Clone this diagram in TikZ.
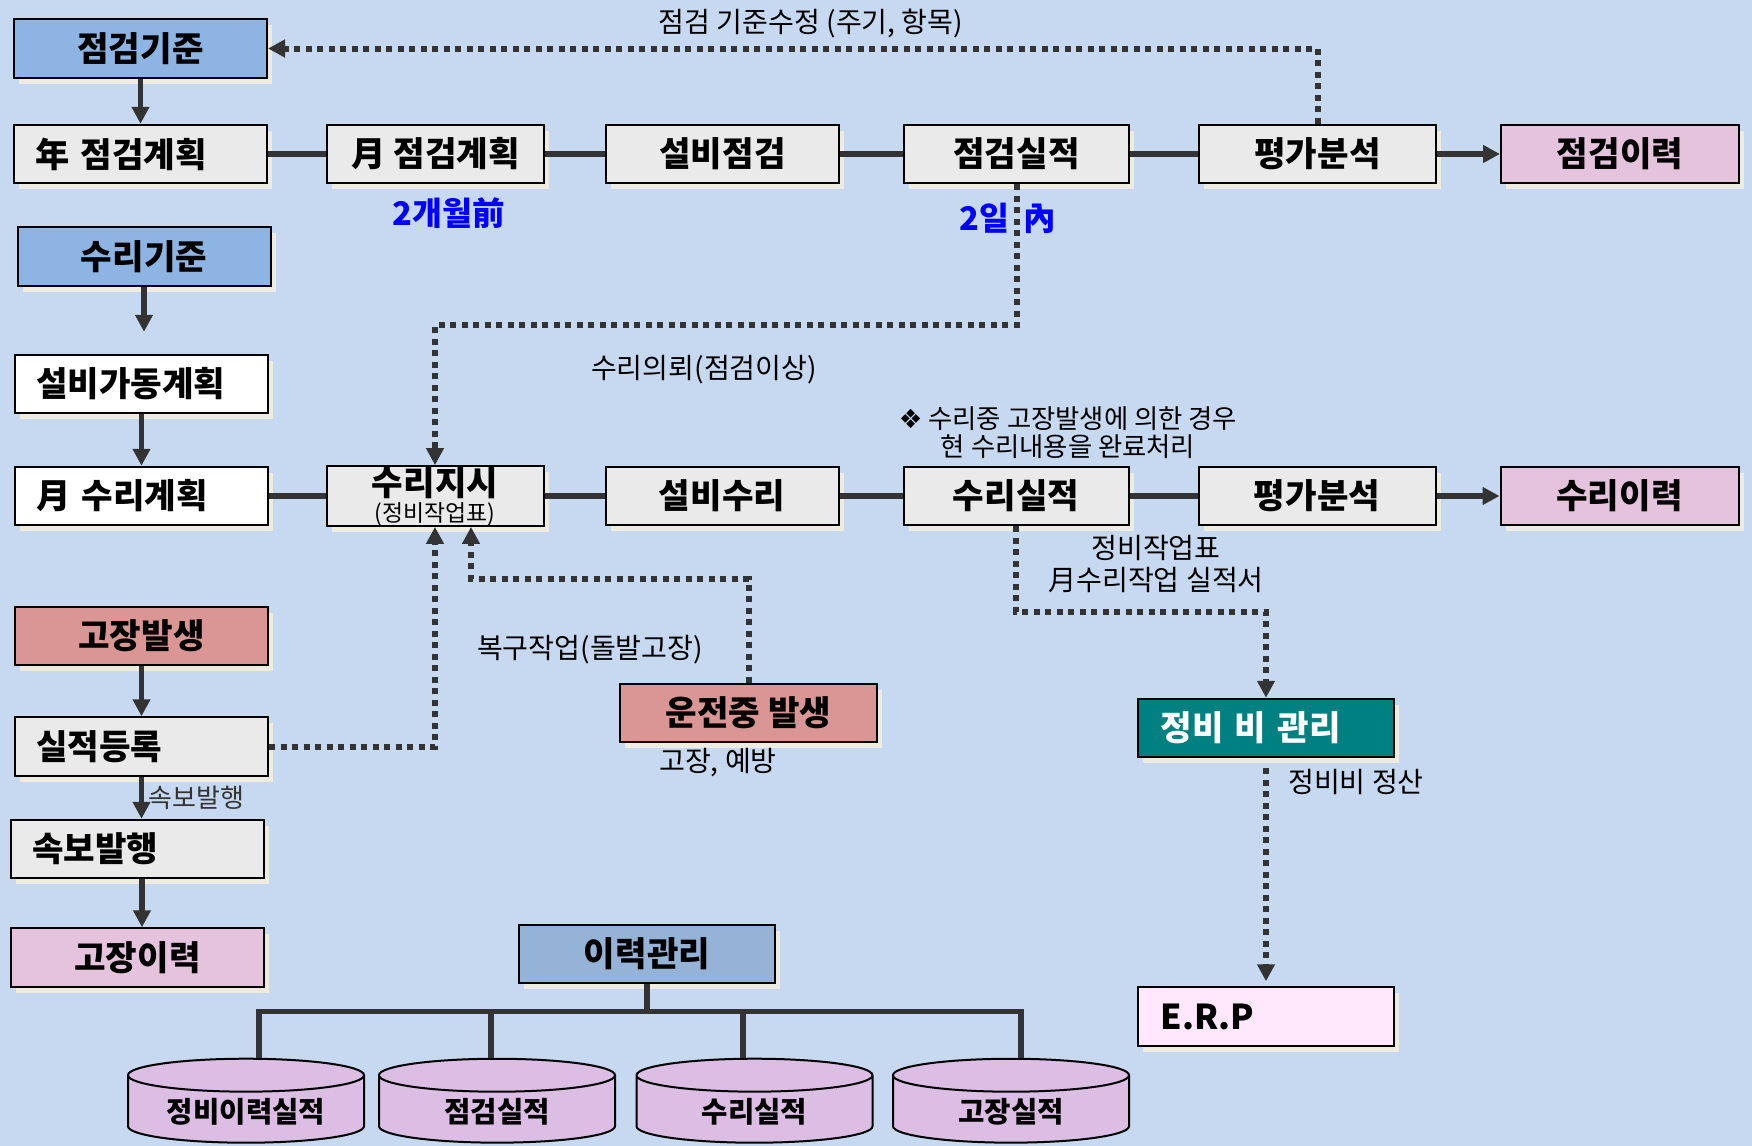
\documentclass[tikz,border=0pt]{standalone}
\usepackage{fontspec}
\setmainfont{Noto Sans CJK KR}
\newfontfamily\symfont{DejaVu Sans}
\usepackage{tikz}
\usetikzlibrary{positioning}
\usetikzlibrary{shapes,arrows.meta,shadows}
\definecolor{bgc}{HTML}{C6D9F0}
\definecolor{boxgray}{HTML}{EAEAEA}
\definecolor{stdblue}{HTML}{8DB4E2}
\definecolor{histblue}{HTML}{95B3D7}
\definecolor{salmon}{HTML}{DA9694}
\definecolor{pinkc}{HTML}{E6C3DD}
\definecolor{cylc}{HTML}{DCBDE3}
\definecolor{erpc}{HTML}{FFE8FC}
\definecolor{tealc}{HTML}{008080}
\definecolor{linec}{HTML}{333333}
\definecolor{shadowc}{HTML}{EEECE1}
\newcommand{\dgbox}{\fontsize{19.5}{22}\selectfont\bfseries}
\newcommand{\dglabel}{\fontsize{16}{18}\selectfont}
\newcommand{\dgnote}{\fontsize{15}{16}\selectfont}
\newcommand{\dgsub}{\fontsize{13}{14}\selectfont\mdseries}
\newcommand{\dgblue}{\fontsize{18.5}{20}\selectfont\bfseries}
\newcommand{\dgtiny}{\fontsize{14.8}{16}\selectfont}
\newcommand{\dgstore}{\fontsize{16.3}{18}\selectfont\bfseries}
\newcommand{\dgerp}{\fontsize{19.5}{22}\selectfont\bfseries}
\tikzstyle{block} = [rectangle, draw, line width=0.04cm, fill=boxgray,
minimum width=5.06cm, minimum height=1.17cm, inner xsep=0.42cm, font=\dgbox,
drop shadow={shadow xshift=0.1cm, shadow yshift=-0.12cm, fill=shadowc, opacity=1}]
\tikzstyle{lblock} = [block, text width=4.22cm, align=left]
\tikzstyle{link} = [draw, line width=0.11cm, color=linec]
\tikzstyle{line} = [link, -{Triangle[width=0.34cm,length=0.34cm]}]
\tikzstyle{dotline} = [draw, line width=0.12cm, color=linec, dash pattern=on 0.12cm off 0.11cm]
\tikzstyle{dotarrow} = [dotline, -{Triangle[width=0.34cm,length=0.34cm]}]
\tikzstyle{lbl} = [font=\dglabel, inner sep=0pt]
\tikzstyle{store} = [cylinder, shape border rotate=90, aspect=0.26, draw, line width=0.04cm,
fill=cylc, minimum width=4.72cm, minimum height=1.56cm, font=\dgstore]

\begin{document}
\begin{tikzpicture}[node distance = 1cm]
    \path [use as bounding box, clip] (0,0) rectangle (35.04,-22.92);
    \fill [bgc] (0,0) rectangle (35.04,-22.92);
    % nodes
   \node [block, fill=stdblue] (jg) at (2.81,-0.97) {점검기준};
   \node [lblock, below=0.9cm of jg] (jy) {年 점검계획};
   \node [block, right=1.16cm of jy, minimum width=4.34cm] (mj) {月 점검계획};
   \node [block, right=1.2cm of mj, minimum width=4.66cm] (sbj) {설비점검};
   \node [block, right=1.26cm of sbj, minimum width=4.5cm] (jjs) {점검실적};
   \node [block, right=1.36cm of jjs, minimum width=4.74cm] (pga1) {평가분석};
   \node [block, right=1.26cm of pga1, minimum width=4.76cm, fill=pinkc] (jji) {점검이력};
   \node [block, fill=stdblue, below=0.84cm of jy, xshift=0.07cm] (sg) {수리기준};
   \node [lblock, fill=white, below=1.34cm of sg, xshift=-0.05cm] (sgd) {설비가동계획};
   \node [lblock, fill=white, below=1.03cm of sgd] (sr) {月 수리계획};
   \node [block, right=1.13cm of sr, minimum width=4.34cm, inner ysep=0pt, align=center] (sj) {수리지시\\[-7pt]{\dgsub (정비작업표)}};
   \node [block, right=1.2cm of sj, minimum width=4.66cm] (sbs) {설비수리};
   \node [block, right=1.26cm of sbs, minimum width=4.5cm] (srs) {수리실적};
   \node [block, right=1.36cm of srs, minimum width=4.74cm] (pga2) {평가분석};
   \node [block, right=1.26cm of pga2, minimum width=4.76cm, fill=pinkc] (sri) {수리이력};
   \node [block, fill=salmon, below=1.59cm of sr] (gb) {고장발생};
   \node [lblock, below=1.0cm of gb] (jd) {실적등록};
   \node [lblock, below=0.84cm of jd, xshift=-0.08cm] (sb) {속보발행};
   \node [block, fill=pinkc, below=0.96cm of sb] (gi) {고장이력};
   \node [block, fill=salmon, minimum width=5.14cm] (ud) at (14.97,-14.26) {운전중 발생};
   \node [lblock, fill=tealc, text=white, minimum width=5.12cm] (jbg) at (25.32,-14.56) {정비 비 관리};
   \node [lblock, fill=erpc, minimum width=5.12cm, below=4.56cm of jbg, font=\dgerp] (erp) {E.R.P};
   \node [block, fill=histblue, minimum width=5.12cm] (ig) at (12.94,-19.08) {이력관리};
   \node [store] (c1) at (4.92,-22.24) {\makebox[2.3cm]{정비이력실적}};
   \node [store] (c2) at (9.94,-22.24) {\makebox[2.3cm]{점검실적}};
   \node [store] (c3) at (15.09,-22.24) {\makebox[2.3cm]{수리실적}};
   \node [store] (c4) at (20.22,-22.24) {\makebox[2.3cm]{고장실적}};

   % labels
   \node [lbl] (tsu) at (16.22,-0.48) {점검 기준수정 (주기, 항목)};
   \node [lbl, font=\dgblue, text=blue] (m2) at (8.98,-4.26) {2개월前};
   \node [lbl, font=\dgblue, text=blue] (d2) at (20.16,-4.36) {2일\hspace{0.45em}內};
   \node [lbl] (rq) at (14.08,-7.40) {수리의뢰(점검이상)};
   \node [lbl, font=\dgnote, align=center] (nt) at (21.36,-8.66) {{\symfont ❖} 수리중 고장발생에 의한 경우\\현 수리내용을 완료처리};
   \node [lbl, align=center] (wk) at (23.12,-11.28) {정비작업표\\月수리작업 실적서};
   \node [lbl] (bg) at (11.8,-13.0) {복구작업(돌발고장)};
   \node [lbl] (gy) at (14.36,-15.26) {고장, 예방};
   \node [lbl] (js) at (27.12,-15.64) {정비비 정산};

    % edges
          \path [line] (jg) -- (jy);
          \path [link] (jy) -- (mj);
          \path [link] (mj) -- (sbj);
          \path [link] (sbj) -- (jjs);
          \path [link] (jjs) -- (pga1);
          \path [line] (pga1) -- (jji);
          \draw [dotarrow] (pga1.north) |- (jg.east);
          \draw [dotarrow] (jjs.south) -- ++(0,-2.82) -| (sj.north);
          \path [line, shorten >=0.44cm] (sg.south) -- (sg.south |- sgd.north);
          \path [line] (sgd) -- (sr);
          \path [link] (sr) -- (sj);
          \path [link] (sj) -- (sbs);
          \path [link] (sbs) -- (srs);
          \path [link] (srs) -- (pga2);
          \path [line] (pga2) -- (sri);
          \draw [dotarrow] (srs.south) -- ++(0,-1.72) -| (jbg.north);
          \draw [dotarrow, shorten <=0.2cm, shorten >=0.1cm] (jbg) -- (erp);
          \path [line] (gb) -- (jd);
          \draw [dotarrow] (jd.east) -| (sj.south);
          \draw [dotarrow] (ud.north) -- ++(0,2.08) -| ([xshift=0.72cm]sj.south);
          \path [line] (jd.south) -- (jd.south |- sb.north) node [midway, right=0.08cm, lbl, font=\dgtiny] {속보발행};
          \path [line] ([xshift=0.09cm]sb.south) -- ([xshift=0.09cm]gi.north);
          \coordinate [below=0.54cm of ig] (bus);
          \draw [link] (ig) -- (bus);
          \draw [link] ([xshift=0.26cm]c1.north) |- (bus) -| ([xshift=0.2cm]c4.north);
          \draw [link] ([xshift=-0.12cm]c2.north) -- ([xshift=-0.12cm]c2.north |- bus);
          \draw [link] ([xshift=-0.23cm]c3.north) -- ([xshift=-0.23cm]c3.north |- bus);

  \end{tikzpicture}
\end{document}
